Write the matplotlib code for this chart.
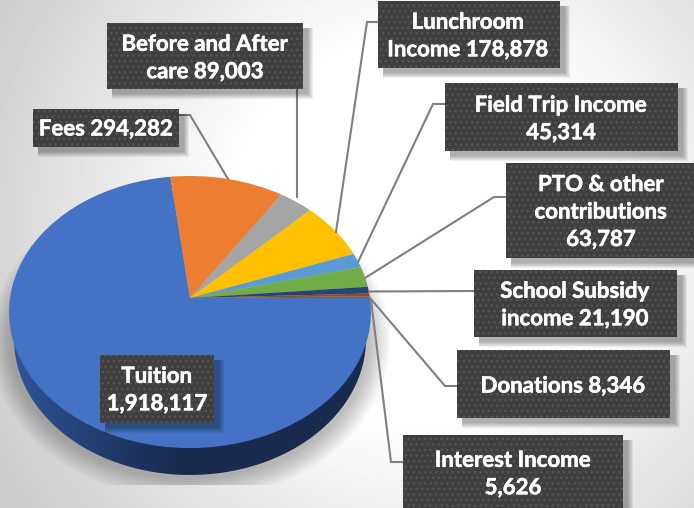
import numpy as np
import matplotlib
matplotlib.use('Agg')
import matplotlib.pyplot as plt
import matplotlib.patheffects as pe
from matplotlib.patches import Rectangle, Ellipse, PathPatch
from matplotlib.path import Path
from matplotlib.transforms import Transform

# data
categories = ['Tuition', 'Fees', 'Before and After care', 'Lunchroom Income', 'Field Trip Income',
              'PTO & other contributions', 'School Subsidy income', 'Donations', 'Interest Income']
values = [1918117, 294282, 89003, 178878, 45314, 63787, 21190, 8346, 5626]
colors = ['#4472c4', '#ed7d31', '#a5a5a5', '#ffc000', '#5b9bd5', '#70ad47', '#264478', '#9e480e', '#636363']
labels = ['Tuition\n1,918,117', 'Fees 294,282', 'Before and After\ncare 89,003', 'Lunchroom\nIncome 178,878',
          'Field Trip Income\n45,314', 'PTO & other\ncontributions\n63,787', 'School Subsidy\nincome 21,190',
          'Donations 8,346', 'Interest Income\n5,626']

# layout, pixels of the picture: left, right, top, bottom
boxes = [(100, 214, 355, 423), (33, 179, 109, 147), (107, 303, 23, 89), (378, 560, 1, 68), (445, 678, 83, 151),
         (506, 696, 163, 258), (474, 677, 270, 337), (457, 670, 350, 418), (403, 623, 435, 510)]
text_pos = [(157, 390), (106, 129), (205, 58), (468, 36), (561, 119), (601, 212), (575, 305), (563, 386), (513, 474)]
leaders = [None,
           [(179, 115), (190, 115), (228, 179)],
           [(297, 89), (297, 197)],
           [(378, 22), (367, 22), (336, 232)],
           [(445, 104), (433, 104), (358, 262)],
           [(506, 197), (494, 197), (365, 278)],
           [(474, 291), (369, 291.5)],
           [(457, 386), (445, 386), (370, 298)],
           [(403, 462), (391, 462), (371, 300)]]

CX, CY = 190, 298
K = -0.103


class Perspective(Transform):
    # tilted disc: unit circle to pixels
    input_dims = 2
    output_dims = 2
    is_separable = False

    def transform_non_affine(self, xy):
        xy = np.asarray(xy, dtype=float)
        d = 1 - K * xy[:, 1]
        return np.column_stack([CX + 180 * xy[:, 0] / d, CY - 134.6 * xy[:, 1] / d])


fig = plt.figure(figsize=(6.94, 5.08), dpi=100)
ax = fig.add_axes([0, 0, 1, 1])

# background
yy, xx = np.mgrid[0:508, 0:694]
r = np.hypot(xx - 420, yy - 230)
shade = 1 - np.clip((r - 190) / 290, 0, 1) * 0.2
ax.imshow(shade, cmap='gray', vmin=0, vmax=1, extent=(0, 694, 508, 0), aspect='auto', zorder=0)

# soft shadow under the pie
clip = Rectangle((0, 0), 694, 485, transform=ax.transData)
for k in range(22, 0, -2):
    sh = Ellipse((190, 341), 2 * (178 + k), 2 * (137 + k), fc='black', ec='none', alpha=0.025, zorder=1)
    ax.add_patch(sh)
    sh.set_clip_path(clip)

# side wall
t = np.linspace(np.pi, 2 * np.pi, 200)
wall = np.column_stack([190 + 176 * np.cos(t), 339 - 136 * np.sin(t)])
wall = np.vstack([[(9, 312)], wall, [(371, 312)]])
grad = np.interp(np.arange(694), [12, 130, 180, 694], [0, 0.75, 1, 1])
c0, c1 = np.array([0x2f, 0x55, 0x97]) / 255, np.array([0x18, 0x2a, 0x4e]) / 255
img = np.array([c0 + (c1 - c0) * g for g in grad])[None, :, :]
im = ax.imshow(img, extent=(0, 694, 508, 0), aspect='auto', zorder=2)
im.set_clip_path(PathPatch(Path(wall), transform=ax.transData))

# top face
wedges, _ = ax.pie(values, colors=colors, startangle=0, counterclock=False, radius=1)
persp = Perspective()
for w in wedges:
    w.set_transform(persp + ax.transData)
    w.set_zorder(3)
ax.set_aspect('auto')
ax.set_xlim(0, 694)
ax.set_ylim(508, 0)
ax.axis('off')

# leader lines
for pts in leaders:
    if pts is None:
        continue
    ax.plot([p[0] for p in pts], [p[1] for p in pts], color='#7f7f7f', lw=1.5, zorder=4, solid_joinstyle='miter')

# callouts
for box, lab, pos in zip(boxes, labels, text_pos):
    x0, x1, y0, y1 = box
    for k in range(1, 7):
        ax.add_patch(Rectangle((x0 + 5, y0 + 5), x1 - x0 + 6 - k, y1 - y0 + 6 - k, fc='black', ec='none',
                               alpha=0.06, zorder=5))
    ax.add_patch(Rectangle((x0, y0), x1 - x0, y1 - y0, fc='#3f3f3f', ec='#565656', lw=0, hatch='...', zorder=6))
    ax.text(pos[0], pos[1], lab, color='white', fontsize=16, fontweight='bold', family='Lato',
            ha='center', va='center', linespacing=1.38, zorder=7,
            path_effects=[pe.withStroke(linewidth=0.4, foreground='white')])

fig.savefig('out.png', dpi=100)
